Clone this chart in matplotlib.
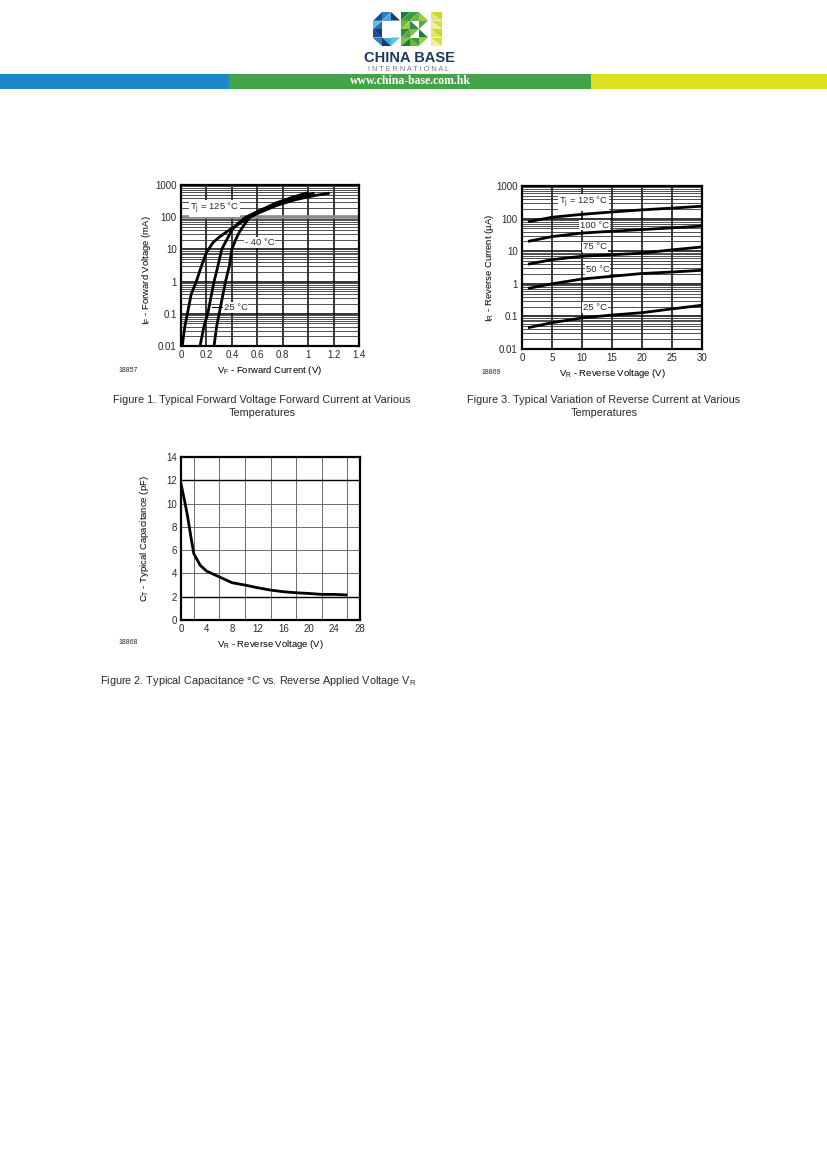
import matplotlib
matplotlib.use("Agg")
import matplotlib.pyplot as plt
from matplotlib.patches import Rectangle, Polygon
from matplotlib.ticker import FixedLocator, NullFormatter, LogLocator

plt.rcParams['font.family'] = ['Liberation Sans', 'DejaVu Sans']
plt.rcParams['text.color'] = '#2a2a2a'
NARROW = ['Liberation Sans Narrow', 'Liberation Sans', 'DejaVu Sans']

# --- data ---
# Figure 1: forward characteristics
vf_125 = [0.01, 0.03, 0.05, 0.08, 0.12, 0.16, 0.20, 0.25, 0.30, 0.38, 0.45, 0.51, 0.60, 0.75, 0.90, 1.05, 1.17]
if_125 = [0.01, 0.04, 0.1, 0.4, 1, 3, 8, 16, 24, 40, 60, 85, 130, 230, 350, 470, 560]
vf_25 = [0.15, 0.18, 0.21, 0.24, 0.26, 0.29, 0.32, 0.36, 0.40, 0.45, 0.51, 0.60, 0.75, 0.90, 1.05]
if_25 = [0.01, 0.04, 0.1, 0.4, 1, 3, 10, 20, 40, 65, 100, 150, 260, 400, 560]
vf_m40 = [0.26, 0.28, 0.30, 0.33, 0.35, 0.38, 0.40, 0.43, 0.46, 0.50, 0.54, 0.62, 0.75, 0.88, 1.0]
if_m40 = [0.01, 0.04, 0.1, 0.4, 1, 3, 10, 20, 35, 60, 100, 160, 280, 420, 580]

# Figure 3: reverse current vs reverse voltage
vr_rev = [1, 5, 10, 15, 20, 25, 30]
ir_125 = [80, 110, 135, 160, 185, 210, 240]
ir_100 = [20, 28, 36, 41, 46, 52, 59]
ir_75 = [4.0, 5.5, 7.0, 7.8, 8.7, 11.0, 13.5]
ir_50 = [0.72, 1.0, 1.4, 1.7, 2.07, 2.3, 2.6]
ir_25 = [0.045, 0.064, 0.09, 0.11, 0.13, 0.17, 0.22]

# Figure 2: capacitance vs reverse voltage
vr_cap = [0, 0.5, 1, 1.5, 2, 3, 4, 6, 8, 10, 12, 14, 16, 18, 20, 22, 24, 26]
ct_cap = [11.7, 10.4, 9.0, 7.3, 5.7, 4.7, 4.2, 3.7, 3.2, 3.0, 2.77, 2.57, 2.43, 2.34, 2.28, 2.2, 2.2, 2.15]

log_ticks = [0.01, 0.1, 1, 10, 100, 1000]
log_labels = ['0.01', '0.1', '1', '10', '100', '1000']
vf_ticks = [0, 0.2, 0.4, 0.6, 0.8, 1, 1.2, 1.4]
vf_labels = ['0', '0.2', '0.4', '0.6', '0.8', '1', '1.2', '1.4']
vr_ticks = [0, 5, 10, 15, 20, 25, 30]
cap_xticks = [0, 4, 8, 12, 16, 20, 24, 28]
cap_yticks = [0, 2, 4, 6, 8, 10, 12, 14]

W, H = 827, 1169
fig = plt.figure(figsize=(W / 100, H / 100), dpi=100)

# page layer in pixel coordinates
page = fig.add_axes([0, 0, 1, 1])
page.set_xlim(0, W)
page.set_ylim(H, 0)
page.axis('off')

# header bar
page.add_patch(Rectangle((0, 74), 229, 15, color='#1f87c7', lw=0))
page.add_patch(Rectangle((229, 74), 362, 15, color='#43a447', lw=0))
page.add_patch(Rectangle((591, 74), 236, 15, color='#dde11d', lw=0))
page.text(410, 81.5, 'www.china-base.com.hk', color='white', fontsize=8.5, fontweight='bold',
          family=['Liberation Serif', 'DejaVu Serif'], ha='center', va='center')
page.text(409, 58, 'CHINA BASE', color='#1b3a5e', fontsize=10.5, fontweight='bold', ha='center', va='center')
page.text(408, 69.5, 'I N T E R N A T I O N A L', color='#7a7a7a', fontsize=5.3, ha='center', va='center')

# logo built from triangles
def tri(cx, cy, w, h, part):
    x0, y0 = cx, cy
    if part == 'UL':
        return [(x0, y0), (x0 + w, y0), (x0, y0 + h)]
    if part == 'LR':
        return [(x0 + w, y0), (x0 + w, y0 + h), (x0, y0 + h)]
    if part == 'UR':
        return [(x0, y0), (x0 + w, y0), (x0 + w, y0 + h)]
    return [(x0, y0), (x0 + w, y0 + h), (x0, y0 + h)]

letter_c = [(0, 0, 'LR'), (1, 0, 'UL'), (1, 0, 'LR'), (2, 0, 'LL'),
            (0, 1, 'UL'), (0, 1, 'LR'), (0, 2, 'UR'), (0, 2, 'LL'),
            (0, 3, 'UR'), (1, 3, 'UR'), (1, 3, 'LL'), (2, 3, 'UL')]
letter_b = [(0, r, p) for r in range(4) for p in ('UL', 'LR')] + \
           [(1, 0, 'UL'), (1, 0, 'LR'), (2, 0, 'LL'), (1, 1, 'LL'), (2, 1, 'UL'),
            (1, 2, 'UL'), (2, 2, 'LL'), (1, 3, 'UR'), (1, 3, 'LL'), (2, 3, 'UL')]
letter_i = [(0, r, p) for r in range(4) for p in ('UR', 'LL')]
pal_c = ['#1d4f91', '#2a7fc1', '#3fa9e0', '#1a3a6e', '#5bc0eb', '#2270b5', '#163d78']
pal_b = ['#1f7a3c', '#3d9b3f', '#6db543', '#9ccc3c', '#2e8b46', '#54a844', '#86c141']
pal_i = ['#c9d82a', '#e3e66b', '#d7df3d', '#eef0a0']
for cells, pal, x0, cw in ((letter_c, pal_c, 373, 9), (letter_b, pal_b, 401, 9), (letter_i, pal_i, 431, 11)):
    for k, (c, r, p) in enumerate(cells):
        page.add_patch(Polygon(tri(x0 + c * cw, 12 + r * 8.5, cw, 8.5, p),
                               closed=True, color=pal[k % len(pal)], lw=0))


def px_axes(left, top, right, bottom):
    return fig.add_axes([left / W, 1 - bottom / H, (right - left) / W, (bottom - top) / H])


def style(ax):
    for s in ax.spines.values():
        s.set_linewidth(1.6)
        s.set_color('black')
    ax.tick_params(which='both', length=0, labelsize=7, colors='#2a2a2a', pad=3)
    for lab in ax.get_xticklabels() + ax.get_yticklabels():
        lab.set_family(NARROW)
    ax.set_axisbelow(True)


curve = dict(color='black', lw=2.0, solid_capstyle='butt')
box = dict(facecolor='white', edgecolor='none', pad=0.6)
lab_fs = 6.8

# ---------------- Figure 1 ----------------
ax1 = px_axes(181, 185, 359, 346)
ax1.set_yscale('log')
ax1.set_xlim(0, 1.4)
ax1.set_ylim(0.01, 1000)
ax1.plot(vf_125, if_125, **curve)
ax1.plot(vf_25, if_25, **curve)
ax1.plot(vf_m40, if_m40, **curve)
ax1.yaxis.set_major_locator(FixedLocator(log_ticks))
ax1.set_yticklabels(log_labels)
ax1.yaxis.set_minor_locator(LogLocator(base=10, subs=range(2, 10)))
ax1.yaxis.set_minor_formatter(NullFormatter())
ax1.set_xticks(vf_ticks)
ax1.set_xticklabels(vf_labels)
ax1.grid(True, which='major', color='black', lw=1.1)
ax1.grid(True, which='minor', axis='y', color='#333333', lw=0.6)
ax1.axhline(100, color='#8a8a8a', lw=2.6, zorder=1)
style(ax1)
ax1.text(0.07, 186, 'T$_\\mathregular{j}$ = 125 °C', fontsize=lab_fs, va='center', ha='left', bbox=box)
ax1.text(0.50, 16, '- 40 °C', fontsize=lab_fs, va='center', ha='left', bbox=box)
ax1.plot([0.245, 0.33], [0.16, 0.16], color='black', lw=0.7)
ax1.text(0.335, 0.16, '25 °C', fontsize=lab_fs, va='center', ha='left', bbox=box)
ax1.set_ylabel('I$_\\mathregular{F}$ - Forward Voltage (mA)', fontsize=lab_fs)
ax1.yaxis.set_label_coords(-0.157, 0.47)
ax1.set_xlabel('V$_\\mathregular{F}$ - Forward Current (V)', fontsize=lab_fs, labelpad=3)
page.text(118, 371, '18857', fontsize=5, ha='left', va='center', family=NARROW)
page.text(262, 400, 'Figure 1. Typical Forward Voltage Forward Current at Various', fontsize=7.8, ha='center', va='center')
page.text(262, 413, 'Temperatures', fontsize=7.8, ha='center', va='center')

# ---------------- Figure 3 ----------------
ax2 = px_axes(522, 186, 702, 349)
ax2.set_yscale('log')
ax2.set_xlim(0, 30)
ax2.set_ylim(0.01, 1000)
for ir in (ir_125, ir_100, ir_75, ir_50, ir_25):
    ax2.plot(vr_rev, ir, **curve)
ax2.yaxis.set_major_locator(FixedLocator(log_ticks))
ax2.set_yticklabels(log_labels)
ax2.yaxis.set_minor_locator(LogLocator(base=10, subs=range(2, 10)))
ax2.yaxis.set_minor_formatter(NullFormatter())
ax2.set_xticks(vr_ticks)
ax2.grid(True, which='major', color='black', lw=1.1)
ax2.grid(True, which='minor', axis='y', color='#333333', lw=0.6)
style(ax2)
ax2.text(6.2, 310, 'T$_\\mathregular{j}$ = 125 °C', fontsize=lab_fs, va='center', ha='left', bbox=box)
ax2.text(9.6, 63, '100 °C', fontsize=lab_fs, va='center', ha='left', bbox=box)
ax2.text(10.2, 13.5, '75 °C', fontsize=lab_fs, va='center', ha='left', bbox=box)
ax2.text(10.6, 2.7, '50 °C', fontsize=lab_fs, va='center', ha='left', bbox=box)
ax2.text(10.2, 0.19, '25 °C', fontsize=lab_fs, va='center', ha='left', bbox=box)
ax2.set_ylabel('I$_\\mathregular{R}$ - Reverse Current (μA)', fontsize=lab_fs)
ax2.yaxis.set_label_coords(-0.145, 0.5)
ax2.set_xlabel('V$_\\mathregular{R}$ - Reverse Voltage (V)', fontsize=lab_fs, labelpad=3)
page.text(481, 373, '18869', fontsize=5, ha='left', va='center', family=NARROW)
page.text(604, 400, 'Figure 3. Typical Variation of Reverse Current at Various', fontsize=7.8, ha='center', va='center')
page.text(604, 413, 'Temperatures', fontsize=7.8, ha='center', va='center')

# ---------------- Figure 2 ----------------
ax3 = px_axes(181, 457, 360, 620)
ax3.set_xlim(0, 28)
ax3.set_ylim(0, 14)
ax3.plot(vr_cap, ct_cap, **curve)
ax3.set_xticks(cap_xticks)
ax3.set_yticks(cap_yticks)
ax3.set_xticks(range(0, 29, 2), minor=True)
ax3.grid(True, which='minor', axis='x', color='#6a6a6a', lw=0.7)
ax3.grid(True, which='major', axis='y', color='#6a6a6a', lw=0.7)
ax3.axhline(2, color='black', lw=1.0, zorder=1)
ax3.axhline(12, color='black', lw=1.0, zorder=1)
style(ax3)
ax3.set_ylabel('C$_\\mathregular{T}$ - Typical Capacitance (pF)', fontsize=lab_fs)
ax3.yaxis.set_label_coords(-0.168, 0.5)
ax3.set_xlabel('V$_\\mathregular{R}$ - Reverse Voltage (V)', fontsize=lab_fs, labelpad=3)
page.text(118, 643, '18868', fontsize=5, ha='left', va='center', family=NARROW)
page.text(100, 681, 'Figure 2. Typical Capacitance °C vs. Reverse Applied Voltage V$_\\mathregular{R}$',
          fontsize=7.8, ha='left', va='center')

fig.savefig('out.png', dpi=100)
